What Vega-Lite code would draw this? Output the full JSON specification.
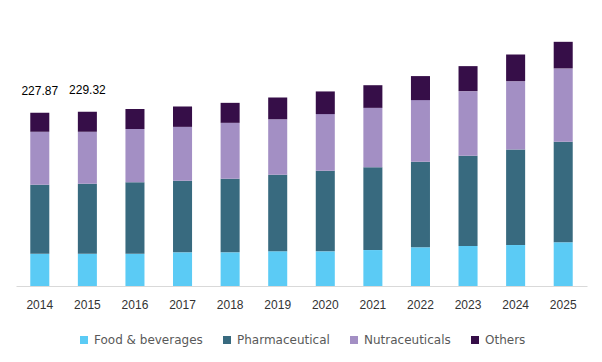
{
  "$schema": "https://vega.github.io/schema/vega-lite/v6.json",
  "autosize": "none",
  "width": 571,
  "height": 266,
  "padding": {"left": 16, "top": 20, "right": 15, "bottom": 76},
  "background": "white",
  "config": {"view": {"stroke": null}},
  "datasets": {
    "seg": [
      {"year": "2014", "segment": "Food & beverages", "rank": 1, "value": 42.47},
      {"year": "2014", "segment": "Pharmaceutical", "rank": 2, "value": 90.73},
      {"year": "2014", "segment": "Nutraceuticals", "rank": 3, "value": 69.69},
      {"year": "2014", "segment": "Others", "rank": 4, "value": 24.98},
      {"year": "2015", "segment": "Food & beverages", "rank": 1, "value": 42.5},
      {"year": "2015", "segment": "Pharmaceutical", "rank": 2, "value": 92.1},
      {"year": "2015", "segment": "Nutraceuticals", "rank": 3, "value": 68.4},
      {"year": "2015", "segment": "Others", "rank": 4, "value": 26.32},
      {"year": "2016", "segment": "Food & beverages", "rank": 1, "value": 42.5},
      {"year": "2016", "segment": "Pharmaceutical", "rank": 2, "value": 93.9},
      {"year": "2016", "segment": "Nutraceuticals", "rank": 3, "value": 70.1},
      {"year": "2016", "segment": "Others", "rank": 4, "value": 26.3},
      {"year": "2017", "segment": "Food & beverages", "rank": 1, "value": 44.3},
      {"year": "2017", "segment": "Pharmaceutical", "rank": 2, "value": 94.1},
      {"year": "2017", "segment": "Nutraceuticals", "rank": 3, "value": 71.0},
      {"year": "2017", "segment": "Others", "rank": 4, "value": 26.8},
      {"year": "2018", "segment": "Food & beverages", "rank": 1, "value": 44.3},
      {"year": "2018", "segment": "Pharmaceutical", "rank": 2, "value": 96.8},
      {"year": "2018", "segment": "Nutraceuticals", "rank": 3, "value": 73.6},
      {"year": "2018", "segment": "Others", "rank": 4, "value": 26.3},
      {"year": "2019", "segment": "Food & beverages", "rank": 1, "value": 45.6},
      {"year": "2019", "segment": "Pharmaceutical", "rank": 2, "value": 100.7},
      {"year": "2019", "segment": "Nutraceuticals", "rank": 3, "value": 73.2},
      {"year": "2019", "segment": "Others", "rank": 4, "value": 28.5},
      {"year": "2020", "segment": "Food & beverages", "rank": 1, "value": 45.6},
      {"year": "2020", "segment": "Pharmaceutical", "rank": 2, "value": 106.0},
      {"year": "2020", "segment": "Nutraceuticals", "rank": 3, "value": 74.6},
      {"year": "2020", "segment": "Others", "rank": 4, "value": 29.8},
      {"year": "2021", "segment": "Food & beverages", "rank": 1, "value": 47.3},
      {"year": "2021", "segment": "Pharmaceutical", "rank": 2, "value": 109.1},
      {"year": "2021", "segment": "Nutraceuticals", "rank": 3, "value": 78.0},
      {"year": "2021", "segment": "Others", "rank": 4, "value": 29.8},
      {"year": "2022", "segment": "Food & beverages", "rank": 1, "value": 50.9},
      {"year": "2022", "segment": "Pharmaceutical", "rank": 2, "value": 112.6},
      {"year": "2022", "segment": "Nutraceuticals", "rank": 3, "value": 81.1},
      {"year": "2022", "segment": "Others", "rank": 4, "value": 31.6},
      {"year": "2023", "segment": "Food & beverages", "rank": 1, "value": 52.6},
      {"year": "2023", "segment": "Pharmaceutical", "rank": 2, "value": 118.7},
      {"year": "2023", "segment": "Nutraceuticals", "rank": 3, "value": 85.1},
      {"year": "2023", "segment": "Others", "rank": 4, "value": 32.9},
      {"year": "2024", "segment": "Food & beverages", "rank": 1, "value": 53.9},
      {"year": "2024", "segment": "Pharmaceutical", "rank": 2, "value": 125.8},
      {"year": "2024", "segment": "Nutraceuticals", "rank": 3, "value": 89.8},
      {"year": "2024", "segment": "Others", "rank": 4, "value": 35.1},
      {"year": "2025", "segment": "Food & beverages", "rank": 1, "value": 57.5},
      {"year": "2025", "segment": "Pharmaceutical", "rank": 2, "value": 132.3},
      {"year": "2025", "segment": "Nutraceuticals", "rank": 3, "value": 96.5},
      {"year": "2025", "segment": "Others", "rank": 4, "value": 35.0}
    ],
    "totals": [
      {"year": "2014", "total": 227.87, "label": "227.87"},
      {"year": "2015", "total": 229.32, "label": "229.32"}
    ]
  },
  "layer": [
    {
      "data": {"name": "seg"},
      "mark": {"type": "bar"},
      "encoding": {
        "x": {
          "field": "year", "type": "ordinal",
          "scale": {"paddingInner": 0.6, "paddingOuter": 0.3},
          "axis": {
            "title": null, "labelAngle": 0, "ticks": false,
            "domainColor": "#d9d9d9", "domainWidth": 1,
            "labelFont": "Liberation Sans", "labelFontSize": 12,
            "labelColor": "#333333", "labelPadding": 13
          }
        },
        "y": {
          "field": "value", "type": "quantitative",
          "stack": "zero",
          "scale": {"domain": [0, 350], "nice": false},
          "axis": null
        },
        "order": {"field": "rank", "type": "quantitative", "sort": "ascending"},
        "color": {
          "field": "segment", "type": "nominal",
          "sort": ["Food & beverages", "Pharmaceutical", "Nutraceuticals", "Others"],
          "scale": {
            "domain": ["Food & beverages", "Pharmaceutical", "Nutraceuticals", "Others"],
            "range": ["#5BCBF5", "#386A7F", "#A38FC4", "#360E48"]
          },
          "legend": {
            "title": null, "orient": "none", "direction": "horizontal",
            "legendX": 62, "legendY": 314,
            "symbolType": "square", "symbolSize": 64, "symbolStrokeWidth": 0,
            "labelFont": "DejaVu Sans", "labelFontSize": 12, "labelColor": "#595959",
            "columnPadding": 18, "labelOffset": 4
          }
        }
      }
    },
    {
      "data": {"name": "totals"},
      "mark": {"type": "text", "baseline": "bottom", "dy": -15, "font": "Liberation Sans", "fontSize": 12, "color": "#000000"},
      "encoding": {
        "x": {"field": "year", "type": "ordinal"},
        "y": {"field": "total", "type": "quantitative"},
        "text": {"field": "label"}
      }
    }
  ]
}
